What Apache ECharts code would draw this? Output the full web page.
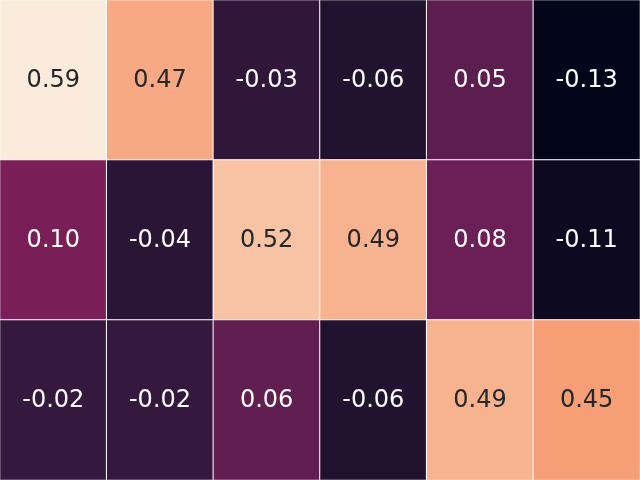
<!DOCTYPE html>
<html>
<head>
<meta charset="utf-8">
<script src="https://cdn.jsdelivr.net/npm/echarts@6/dist/echarts.min.js"></script>
<style>
  html, body { margin: 0; padding: 0; background: #fff; }
  #main { width: 640px; height: 480px; }
</style>
</head>
<body>
<div id="main"></div>
<script>
// heatmap values, row by row (top to bottom)
var colNames = ['0', '1', '2', '3', '4', '5'];
var rowNames = ['0', '1', '2'];
var row0 = [0.59, 0.47, -0.03, -0.06, 0.05, -0.13];
var row1 = [0.10, -0.04, 0.52, 0.49, 0.08, -0.11];
var row2 = [-0.02, -0.02, 0.06, -0.06, 0.49, 0.45];
var rows = [row0, row1, row2];

// rocket colour map
var rocket = ['#03051a', '#221331', '#451c47', '#701f57', '#a11a5b',
              '#cb1b4f', '#e83f3f', '#f37651', '#f69c73', '#f7c2a2', '#faebdd'];

(function(){
    var data = [];
    var vmin = Infinity, vmax = -Infinity;
    rows.forEach(function(r, j){
        r.forEach(function(v, i){
            vmin = Math.min(vmin, v);
            vmax = Math.max(vmax, v);
            data.push({
                value: [i, j, v],
                label: { color: v > 0.3 ? '#262626' : '#ffffff' }
            });
        });
    });

    var chart = echarts.init(document.getElementById('main'));
    chart.setOption({
        animation: false,
        grid: { left: 0, right: 0, top: 0, bottom: 0 },
        xAxis: {
            type: 'category',
            data: colNames,
            show: false
        },
        yAxis: {
            type: 'category',
            data: rowNames,
            inverse: true,
            show: false
        },
        visualMap: {
            show: false,
            min: vmin,
            max: vmax,
            dimension: 2,
            inRange: { color: rocket }
        },
        series: [{
            type: 'heatmap',
            data: data,
            itemStyle: { borderColor: '#ffffff', borderWidth: 1 },
            label: {
                show: true,
                fontFamily: 'DejaVu Sans',
                fontSize: 24,
                offset: [0, 1],
                formatter: function(p){ return p.value[2].toFixed(2); }
            },
            emphasis: { disabled: true }
        }]
    });
})();
</script>
</body>
</html>
